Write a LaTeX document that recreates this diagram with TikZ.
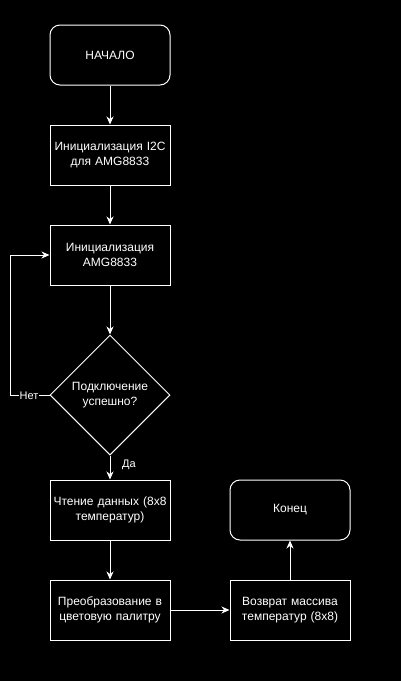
\documentclass[tikz,border=0pt]{standalone}
\usepackage{fontspec}
\setmainfont{Liberation Sans}
\usetikzlibrary{shapes.geometric,arrows.meta}
\begin{document}
\begin{tikzpicture}[x=1pt,y=-1pt,
  every node/.style={font=\fontsize{12}{14.5}\selectfont, text=white},
  procbox/.style={draw=white, line width=1pt, minimum width=120pt, minimum height=60pt, align=center, text width=116pt, inner sep=0pt},
  termbox/.style={procbox, rounded corners=10pt},
  decbox/.style={draw=white, line width=1pt, diamond, minimum width=120pt, minimum height=120pt, aspect=1, align=center, inner sep=0pt},
  conn/.style={draw=white, line width=1pt, -{Stealth[length=8pt,width=7pt,inset=2.5pt]}},
  lbl/.style={font=\fontsize{11}{12}\selectfont, text=white, fill=black, inner sep=1pt}
]
\fill[black] (0,0) rectangle (401,681);
\useasboundingbox (0,0) rectangle (401,681);
\node[termbox] (start) at (110,55) {НАЧАЛО};
\node[procbox] (i2c) at (110,155) {Инициализация I2C\\для AMG8833};
\node[procbox] (amg) at (110,255) {Инициализация\\AMG8833};
\node[decbox] (dec) at (110,395) {Подключение\\успешно?};
\node[procbox] (read) at (110,510) {Чтение данных (8x8\\температур)};
\node[procbox] (conv) at (110,610) {Преобразование в\\цветовую палитру};
\node[procbox] (ret) at (290,610) {Возврат массива\\температур (8x8)};
\node[termbox] (end) at (290,510) {Конец};
\coordinate (lc1) at (10,395);
\coordinate (lc2) at (10,255);
\draw[conn] (start) -- (i2c);
\draw[conn] (i2c) -- (amg);
\draw[conn] (amg) -- (dec);
\draw[conn] (dec) -- (read);
\node[lbl] (da) at (129,465) {Да};
\draw[conn] (dec.west) -- (lc1) -- (lc2) -- (amg.west);
\node[lbl] (net) at (29,396) {Нет};
\draw[conn] (read) -- (conv);
\draw[conn] (conv) -- (ret);
\draw[conn] (ret) -- (end);
\end{tikzpicture}
\end{document}
